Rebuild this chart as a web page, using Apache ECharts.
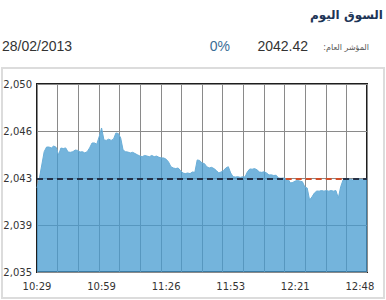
<!DOCTYPE html>
<html>
<head>
<meta charset="utf-8">
<script src="https://cdn.jsdelivr.net/npm/echarts@6/dist/echarts.min.js"></script>
<style>
html,body{margin:0;padding:0;background:#fff;}
#chart{width:386px;height:300px;}
</style>
</head>
<body>
<div id="chart"></div>
<script>
// ---- data ----
var titleText = "السوق اليوم";
var indexLabel = "المؤشر العام:\u200F";
var indexValue = "2042.42";
var changeText = "0%";
var dateText = "28/02/2013";
var refValue = 2042.42;
var tickLabels = ["10:29", "10:59", "11:26", "11:53", "12:21", "12:48"];
var tickStep = 27; // data points between time labels
var values = [
  2041.70, 2042.50, 2043.54, 2044.60, 2044.97, 2044.97, 2044.90, 2045.05, 2044.95, 2044.34,
  2044.89, 2044.85, 2044.90, 2044.57, 2044.55, 2044.60, 2044.73, 2044.70, 2044.57, 2044.60,
  2044.50, 2044.60, 2044.90, 2045.29, 2045.30, 2045.20, 2045.80, 2046.49, 2045.53, 2045.50,
  2045.60, 2045.50, 2045.60, 2046.09, 2046.05, 2045.69, 2044.73, 2044.60, 2044.57, 2044.50,
  2044.55, 2044.45, 2044.35, 2044.26, 2044.20, 2044.30, 2044.25, 2044.20, 2044.30, 2044.20,
  2044.25, 2044.15, 2044.10, 2044.10, 2044.00, 2043.78, 2043.40, 2043.30, 2043.25, 2043.30,
  2043.10, 2042.90, 2042.85, 2042.90, 2042.85, 2042.98, 2042.95, 2043.94, 2043.90, 2043.70,
  2043.65, 2043.40, 2043.30, 2043.35, 2043.25, 2043.10, 2042.90, 2042.98, 2043.10, 2043.30,
  2043.40, 2042.90, 2042.60, 2042.58, 2042.60, 2042.55, 2042.60, 2042.58, 2043.00, 2043.22,
  2043.20, 2043.25, 2043.15, 2042.98, 2042.95, 2043.00, 2042.90, 2042.74, 2042.75, 2042.70,
  2042.72, 2042.50, 2042.48, 2042.50, 2042.45, 2042.40, 2042.10, 2042.15, 2042.26, 2042.30,
  2042.25, 2042.20, 2041.78, 2041.70, 2040.74, 2041.00, 2041.30, 2041.46, 2041.45, 2041.50,
  2041.45, 2041.50, 2041.45, 2041.50, 2041.45, 2041.50, 2040.90, 2041.80, 2042.35, 2042.40,
  2042.38, 2042.40, 2042.35, 2042.40, 2042.38, 2042.40, 2042.38, 2042.40, 2042.40
];
// index ranges of the reference line: [start, end, below?]
var refSegments = [[0, 104, false], [104, 128, true], [128, 138, false]];

var lastIdx = values.length - 1;
var seriesData = values.map(function (v, i) { return [i, v]; });

var chart = echarts.init(document.getElementById('chart'), null, {renderer: 'svg'});
var dark = '#243046', red = '#d0502a';

var option = {
  animation: false,
  backgroundColor: '#fff',
  grid: {
    left: 37, right: 19, top: 84, bottom: 28,
    show: true, borderColor: '#1e1e1e', borderWidth: 2, backgroundColor: '#fff'
  },
  graphic: [
    {type: 'rect', shape: {x: 2, y: 68, width: 382, height: 230},
     style: {fill: 'none', stroke: '#dcdcdc', lineWidth: 2}, z: -10, silent: true},
    {type: 'text', x: 383, y: 15,
     style: {text: titleText, font: 'bold 12px "DejaVu Sans"', fill: '#1d3557', align: 'right', verticalAlign: 'middle'}},
    {type: 'text', x: 369, y: 47,
     style: {text: indexLabel, font: '8px "DejaVu Sans"', fill: '#555', align: 'right', verticalAlign: 'middle'}},
    {type: 'text', x: 308, y: 46,
     style: {text: indexValue, font: '14px "Liberation Sans"', fill: '#333', align: 'right', verticalAlign: 'middle'}},
    {type: 'text', x: 230, y: 46,
     style: {text: changeText, font: '14px "Liberation Sans"', fill: '#3a6d96', align: 'right', verticalAlign: 'middle'}},
    {type: 'text', x: 2, y: 46,
     style: {text: dateText, font: '14px "Liberation Sans"', fill: '#333', align: 'left', verticalAlign: 'middle'}}
  ],
  xAxis: [
    {
      type: 'value', min: 0, max: lastIdx, interval: lastIdx / 16,
      axisLine: {show: false}, axisTick: {show: false}, axisLabel: {show: false},
      splitLine: {show: true, lineStyle: {color: '#8a8a8a', width: 1}}
    },
    {
      type: 'value', min: 0, max: lastIdx, interval: tickStep, position: 'bottom',
      axisLine: {show: false}, axisTick: {show: false}, splitLine: {show: false},
      axisLabel: {
        show: true, margin: 9, color: '#333', fontSize: 10, fontFamily: 'DejaVu Sans',
        showMaxLabel: false,
        formatter: function (v) {
          var k = Math.round(v / tickStep);
          if (Math.abs(v - k * tickStep) > 0.01) return '';
          return tickLabels[k] || '';
        }
      }
    }
  ],
  yAxis: {
    type: 'value', min: 2035, max: 2050, interval: 3.75,
    axisLine: {show: false}, axisTick: {show: false},
    splitLine: {show: true, lineStyle: {color: '#8a8a8a', width: 1}},
    axisLabel: {
      margin: 5, color: '#333', fontSize: 10, fontFamily: 'DejaVu Sans',
      formatter: function (v) {
        var r = Math.round(v);
        return String(r).replace(/\B(?=(\d{3})+(?!\d))/g, ',');
      }
    }
  },
  series: [{
    type: 'line',
    xAxisIndex: 0,
    data: seriesData,
    showSymbol: false,
    lineStyle: {width: 1, color: '#6aaed8'},
    areaStyle: {origin: 'start', color: 'rgb(70,155,208)', opacity: 0.75},
    z: 2,
    markLine: {
      silent: true,
      symbol: 'none',
      label: {show: false},
      data: refSegments.map(function (s) {
        return [
          {coord: [s[0], refValue], lineStyle: {color: s[2] ? red : dark, width: 2, type: [6, 4]}},
          {coord: [s[1], refValue]}
        ];
      })
    }
  }]
};
chart.setOption(option);
</script>
</body>
</html>
